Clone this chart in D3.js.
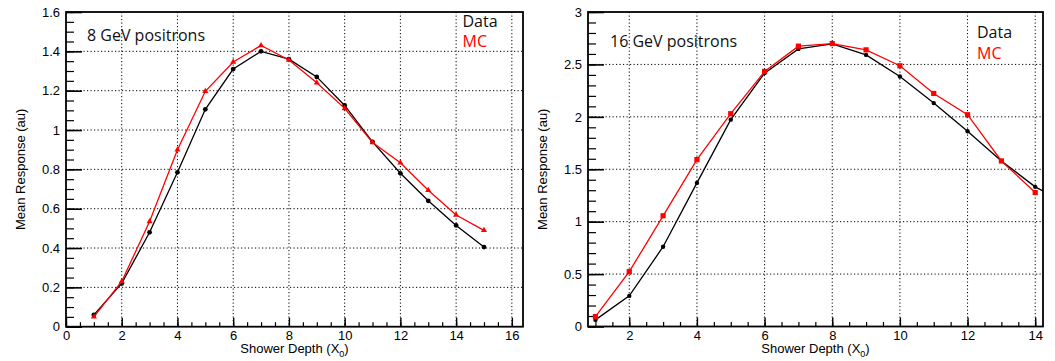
<!DOCTYPE html>
<html>
<head>
<meta charset="utf-8">
<script src="https://cdn.jsdelivr.net/npm/d3@7"></script>
<style>
    body { margin: 0; background: #fff; }
    svg { display: block; }
    .tick text { font-family: "Liberation Sans", Arial, sans-serif; font-size: 13px; fill: #000; }
    .atitle { font-family: "Liberation Sans", Arial, sans-serif; font-size: 13px; fill: #000; }
    .note { font-family: "Open Sans", sans-serif; font-size: 16px; }
</style>
</head>
<body>
<div id="chart"></div>
<script>
// 8 GeV positrons
const depth8 = [1, 2, 3, 4, 5, 6, 7, 8, 9, 10, 11, 12, 13, 14, 15];
const data8 = [0.06, 0.22, 0.48, 0.785, 1.105, 1.31, 1.40, 1.36, 1.27, 1.125, 0.94, 0.78, 0.64, 0.515, 0.405];
const mc8 = [0.05, 0.23, 0.535, 0.90, 1.197, 1.346, 1.43, 1.356, 1.24, 1.11, 0.937, 0.834, 0.694, 0.568, 0.49];

// 16 GeV positrons
const depth16Data = [1, 2, 3, 4, 5, 6, 7, 8, 9, 10, 11, 12, 13, 14, 15];
const data16 = [0.063, 0.292, 0.761, 1.37, 1.973, 2.417, 2.648, 2.696, 2.591, 2.385, 2.131, 1.862, 1.579, 1.332, 1.16];
const depth16Mc = [1, 2, 3, 4, 5, 6, 7, 8, 9, 10, 11, 12, 13, 14];
const mc16 = [0.095, 0.523, 1.056, 1.592, 2.03, 2.433, 2.674, 2.699, 2.639, 2.487, 2.223, 2.02, 1.579, 1.278];

// axis ticks
const xTicks8 = [0, 2, 4, 6, 8, 10, 12, 14, 16];
const yTicks8 = [0, 0.2, 0.4, 0.6, 0.8, 1, 1.2, 1.4, 1.6];
const xTicks16 = [2, 4, 6, 8, 10, 12, 14];
const yTicks16 = [0, 0.5, 1, 1.5, 2, 2.5, 3];

const svgW = 1055;
const svgH = 361;
const red = "#ff0000";

const svg = d3.select("#chart")
    .append("svg")
    .attr("width", svgW)
    .attr("height", svgH);

svg.append("rect").attr("width", svgW).attr("height", svgH).attr("fill", "#fff");

function drawPanel(p) {
    const xScale = d3.scaleLinear().domain(p.xDomain).range([p.left, p.right]);
    const yScale = d3.scaleLinear().domain(p.yDomain).range([p.bottom, p.top]);
    const g = svg.append("g");

    // dotted grid at major ticks
    g.selectAll(".gx")
        .data(p.xTicks.filter(t => t > p.xDomain[0] && t < p.xDomain[1]))
        .enter().append("line")
        .attr("x1", d => xScale(d)).attr("x2", d => xScale(d))
        .attr("y1", p.top).attr("y2", p.bottom)
        .attr("stroke", "#000").attr("stroke-width", 1)
        .attr("stroke-dasharray", "1.2,2.3");
    g.selectAll(".gy")
        .data(p.yTicks.filter(t => t > p.yDomain[0] && t < p.yDomain[1]))
        .enter().append("line")
        .attr("x1", p.left).attr("x2", p.right)
        .attr("y1", d => yScale(d)).attr("y2", d => yScale(d))
        .attr("stroke", "#000").attr("stroke-width", 1)
        .attr("stroke-dasharray", "1.2,2.3");

    // minor ticks
    const xMinor = d3.range(Math.ceil(p.xDomain[0] / p.xMinorStep) * p.xMinorStep, p.xDomain[1], p.xMinorStep);
    const yMinor = d3.range(0, p.yDomain[1] + 1e-9, p.yMinorStep);

    g.append("g")
        .attr("transform", `translate(0, ${p.bottom})`)
        .call(d3.axisBottom(xScale).tickValues(xMinor).tickSizeInner(-4.5).tickSizeOuter(0).tickFormat(""))
        .call(a => a.select(".domain").remove())
        .selectAll("line").attr("stroke-width", 1.2);
    g.append("g")
        .attr("transform", `translate(${p.left}, 0)`)
        .call(d3.axisLeft(yScale).tickValues(yMinor).tickSizeInner(-8).tickSizeOuter(0).tickFormat(""))
        .call(a => a.select(".domain").remove())
        .selectAll("line").attr("stroke-width", 1.2);

    // major ticks + labels
    g.append("g")
        .attr("transform", `translate(0, ${p.bottom})`)
        .call(d3.axisBottom(xScale).tickValues(p.xTicks).tickSizeInner(-9).tickSizeOuter(0).tickPadding(4).tickFormat(d3.format("~g")))
        .call(a => a.select(".domain").remove())
        .call(a => a.selectAll("line").attr("stroke-width", 1.4));
    g.append("g")
        .attr("transform", `translate(${p.left}, 0)`)
        .call(d3.axisLeft(yScale).tickValues(p.yTicks).tickSizeInner(-16).tickSizeOuter(0).tickPadding(6).tickFormat(d3.format("~g")))
        .call(a => a.select(".domain").remove())
        .call(a => a.selectAll("line").attr("stroke-width", 1.6));

    // frame
    g.append("rect")
        .attr("x", p.left).attr("y", p.top)
        .attr("width", p.right - p.left).attr("height", p.bottom - p.top)
        .attr("fill", "none").attr("stroke", "#000").attr("stroke-width", 1.8);

    // series
    const clipId = "clip" + p.id;
    svg.append("clipPath").attr("id", clipId)
        .append("rect")
        .attr("x", p.left).attr("y", p.top)
        .attr("width", p.right - p.left).attr("height", p.bottom - p.top);

    const plot = g.append("g").attr("clip-path", `url(#${clipId})`);
    const line = d3.line().x(d => xScale(d[0])).y(d => yScale(d[1]));

    p.series.forEach(s => {
        const pts = s.x.map((x, i) => [x, s.y[i]]);
        plot.append("path")
            .datum(pts)
            .attr("d", line)
            .attr("fill", "none")
            .attr("stroke", s.color)
            .attr("stroke-width", 1.3);
        const m = plot.selectAll(null).data(pts).enter();
        if (s.marker === "circle") {
            m.append("circle")
                .attr("cx", d => xScale(d[0])).attr("cy", d => yScale(d[1]))
                .attr("r", s.size).attr("fill", s.color);
        } else if (s.marker === "square") {
            m.append("rect")
                .attr("x", d => xScale(d[0]) - s.size).attr("y", d => yScale(d[1]) - s.size)
                .attr("width", s.size * 2).attr("height", s.size * 2).attr("fill", s.color);
        } else {
            m.append("path")
                .attr("transform", d => `translate(${xScale(d[0])}, ${yScale(d[1])})`)
                .attr("d", d3.symbol(d3.symbolTriangle, s.size * s.size * 4))
                .attr("fill", s.color);
        }
    });

    // axis titles
    const xt = g.append("text")
        .attr("class", "atitle")
        .attr("x", (p.left + p.right) / 2)
        .attr("y", 353)
        .style("text-anchor", "middle");
    xt.append("tspan").text("Shower Depth (X");
    xt.append("tspan").attr("dy", 4).style("font-size", "9px").text("0");
    xt.append("tspan").attr("dy", -4).text(")");

    g.append("text")
        .attr("class", "atitle")
        .text("Mean Response (au)")
        .attr("transform", `translate(${p.yTitleX}, ${(p.top + p.bottom) / 2}) rotate(-90)`)
        .style("text-anchor", "middle");

    // annotations
    g.append("text").attr("class", "note")
        .attr("x", p.labelX).attr("y", p.labelY)
        .attr("fill", "#111").text(p.label);
    g.append("text").attr("class", "note")
        .attr("x", p.legendX).attr("y", p.legendY)
        .attr("fill", "#111").text("Data");
    g.append("text").attr("class", "note")
        .attr("x", p.legendX).attr("y", p.legendY + 20.5)
        .attr("fill", red).text("MC");
}

drawPanel({
    id: 8,
    left: 66, right: 523, top: 12, bottom: 326.7,
    xDomain: [0, 16.4], yDomain: [0, 1.6],
    xTicks: xTicks8, yTicks: yTicks8,
    xMinorStep: 0.5, yMinorStep: 0.05,
    yTitleX: 25,
    label: "8 GeV positrons", labelX: 87, labelY: 40.7,
    legendX: 462.5, legendY: 26.7,
    series: [
        { x: depth8, y: data8, color: "#000", marker: "circle", size: 2.4 },
        { x: depth8, y: mc8, color: red, marker: "triangle", size: 2 }
    ]
});

drawPanel({
    id: 16,
    left: 588, right: 1043, top: 12, bottom: 326.5,
    xDomain: [0.78, 14.23], yDomain: [0, 3],
    xTicks: xTicks16, yTicks: yTicks16,
    xMinorStep: 0.5, yMinorStep: 0.1,
    yTitleX: 546.5,
    label: "16 GeV positrons", labelX: 610, labelY: 46.7,
    legendX: 977, legendY: 38.3,
    series: [
        { x: depth16Data, y: data16, color: "#000", marker: "circle", size: 2.2 },
        { x: depth16Mc, y: mc16, color: red, marker: "square", size: 2.6 }
    ]
});
</script>
</body>
</html>
